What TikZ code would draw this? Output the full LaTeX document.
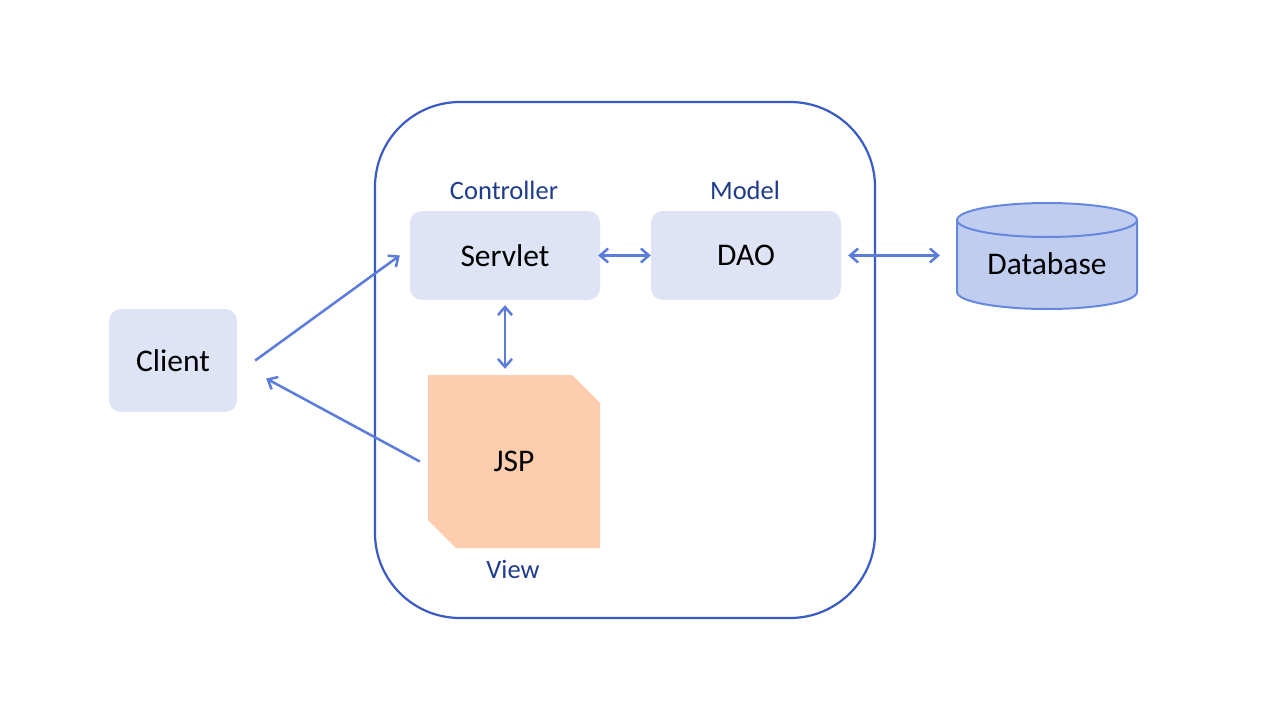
\documentclass[tikz,border=0pt]{standalone}
\usepackage{fontspec}
\setmainfont{Carlito}
\usetikzlibrary{arrows.meta}
\definecolor{boxfill}{RGB}{222,228,246}
\definecolor{jspfill}{RGB}{253,205,174}
\definecolor{dbfill}{RGB}{192,205,238}
\definecolor{dbline}{RGB}{100,136,224}
\definecolor{arrowc}{RGB}{91,124,219}
\definecolor{outerc}{RGB}{58,91,197}
\definecolor{labelc}{RGB}{31,59,140}
\tikzset{
  compbox/.style={fill=boxfill, rounded corners=12pt, inner sep=0pt, font=\fontsize{31.5}{36}\selectfont},
  plainbox/.style={inner sep=0pt, font=\fontsize{31.5}{36}\selectfont},
  layerlabel/.style={text=labelc, inner sep=0pt, font=\fontsize{26.5}{30}\selectfont},
  conn/.style={draw=arrowc, line width=2.5pt, -{Straight Barb[length=8pt,width=14pt,line width=2.5pt]}},
  biconn/.style={draw=arrowc, line width=2.5pt, {Straight Barb[length=8pt,width=14pt,line width=2.5pt]}-{Straight Barb[length=8pt,width=14pt,line width=2.5pt]}}
}
\begin{document}
\begin{tikzpicture}[x=1pt,y=1pt]
\useasboundingbox (0,0) rectangle (1280,-720);
\fill[white] (0,0) rectangle (1280,-720);
% outer container
\draw[outerc, line width=2.2pt, rounded corners=85pt] (375,-102) rectangle (875,-618);
% components
\node[compbox, minimum width=190pt, minimum height=89pt] (servlet) at (505,-255.5) {Servlet};
\node[compbox, minimum width=190pt, minimum height=89pt] (dao) at (746,-255.5) {DAO};
\node[compbox, minimum width=128pt, minimum height=103pt] (client) at (173,-360.5) {Client};
% JSP chamfered shape
\fill[jspfill] (428,-375) -- (572,-375) -- (600,-403) -- (600,-548) -- (456,-548) -- (428,-520) -- cycle;
\node[plainbox, minimum width=172pt, minimum height=173pt] (jsp) at (514,-461.5) {JSP};
% database cylinder
\path[fill=dbfill, draw=dbline, line width=2pt] (957,-220) -- (957,-292) arc[start angle=180, end angle=360, x radius=90, y radius=17] -- (1137,-220) arc[start angle=0, end angle=180, x radius=90, y radius=17] -- cycle;
\draw[dbline, line width=2pt] (957,-220) arc[start angle=180, end angle=360, x radius=90, y radius=17];
\node[plainbox, minimum width=180pt, minimum height=70pt] (db) at (1047,-264) {Database};
% labels
\node[layerlabel] (ctrllbl) at (504,-190) {Controller};
\node[layerlabel] (modellbl) at (745,-190) {Model};
\node[layerlabel] (viewlbl) at (513,-569) {View};
% connectors
\draw[conn] ([xshift=18pt]client.east) -- ([xshift=-10pt]servlet.west);
\draw[conn] ([xshift=-8pt]jsp.west) -- ([shift={(29pt,-18pt)}]client.east);
\draw[biconn] ([xshift=-2pt]servlet.east) -- (dao.west);
\draw[biconn] ([xshift=7pt]dao.east) -- ([xshift=-17pt]db.west |- dao.east);
\draw[biconn] ([yshift=-5pt]servlet.south) -- ([yshift=6pt]servlet.south |- jsp.north);
\end{tikzpicture}
\end{document}
